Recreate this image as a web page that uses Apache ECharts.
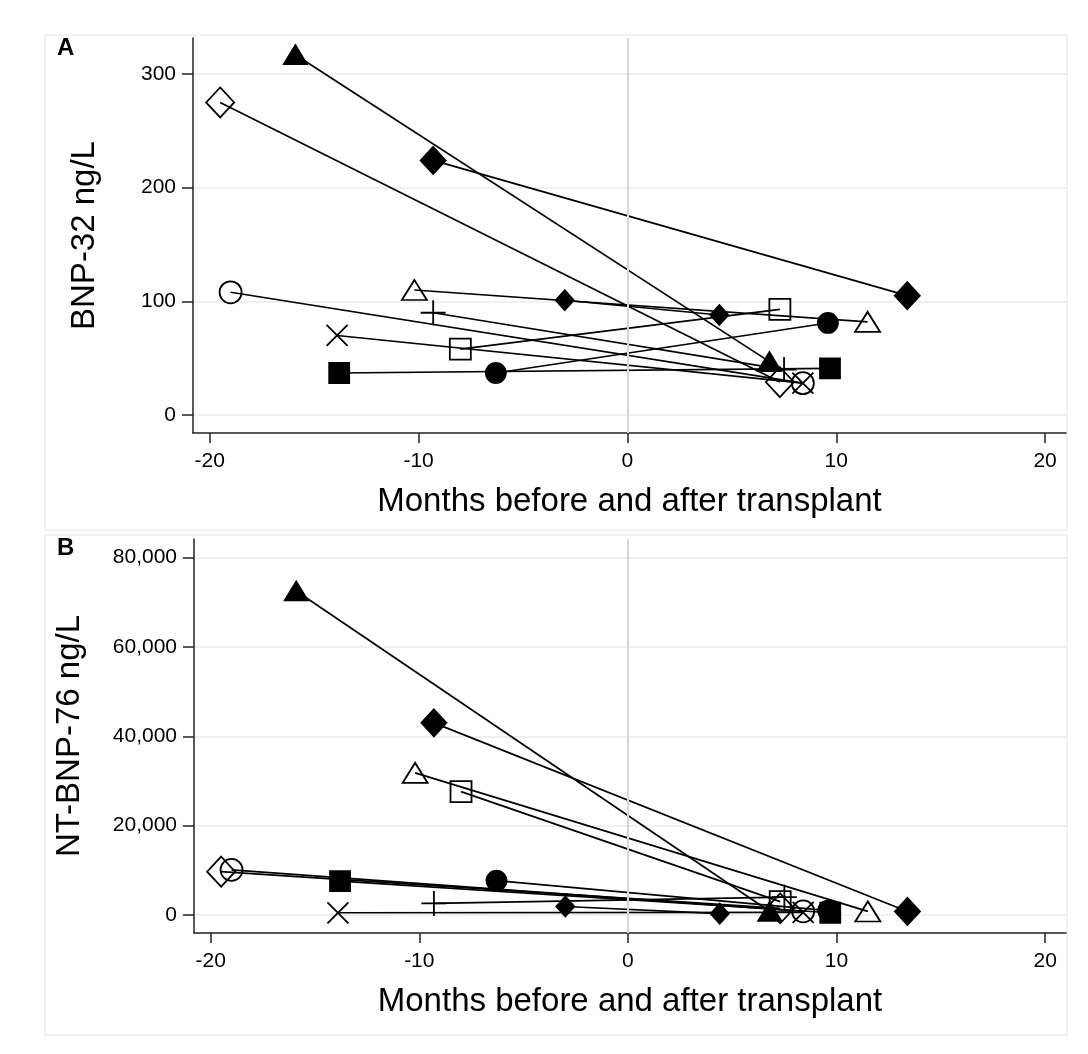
<!DOCTYPE html>
<html>
<head>
<meta charset="utf-8">
<script src="https://cdn.jsdelivr.net/npm/echarts@6/dist/echarts.min.js"></script>
<style>
html,body{margin:0;padding:0;background:#fff;}
#chart{width:1088px;height:1054px;}
</style>
</head>
<body>
<div id="chart"></div>
<script>
// Patients (same order in every array):
// filled triangle, open diamond, filled diamond, open circle, open triangle,
// small filled diamond, plus, x, open square, filled square, filled circle
const monthsBefore = [-15.9, -19.5, -9.3, -19.0, -10.2, -3.0, -9.3, -13.9, -8.0, -13.8, -6.3];
const monthsAfter  = [6.8, 7.3, 13.4, 8.4, 11.5, 4.4, 7.5, 8.4, 7.3, 9.7, 9.6];
const bnpBefore = [317, 275, 224, 108, 110, 101, 90, 70, 58, 37, 37];
const bnpAfter  = [47, 29, 105, 28, 82, 88, 40, 28, 93, 41, 81];
const ntBefore = [72500, 9700, 43000, 10100, 31800, 1900, 2600, 500, 27600, 7600, 7700];
const ntAfter  = [800, 1500, 800, 800, 800, 300, 4000, 600, 3000, 500, 1000];
const xTicks = [-20, -10, 0, 10, 20];
const bnpTicks = [0, 100, 200, 300];
const ntTicks = [0, 20000, 40000, 60000, 80000];
const panelLabels = ['A', 'B'];
const yTitles = ['BNP-32 ng/L', 'NT-BNP-76 ng/L'];
const xTitle = 'Months before and after transplant';

const PLUS = 'path://M12,0 L12,24 M0,12 L24,12';
const CROSS = 'path://M0,0 L24,24 M24,0 L0,24';
const FILL = '#000';
const HOLLOW = 'rgba(0,0,0,0)';
const markers = [
  {symbol:'triangle', size:[23,19], fill:FILL},
  {symbol:'diamond', size:[28,30], fill:HOLLOW},
  {symbol:'diamond', size:[25,27], fill:FILL},
  {symbol:'circle', size:22, fill:HOLLOW},
  {symbol:'triangle', size:[25,20], fill:HOLLOW},
  {symbol:'diamond', size:[18,20], fill:FILL},
  {symbol:PLUS, size:25, fill:HOLLOW},
  {symbol:CROSS, size:21, fill:HOLLOW},
  {symbol:'rect', size:21, fill:HOLLOW},
  {symbol:'rect', size:20, fill:FILL},
  {symbol:'circle', size:20, fill:FILL}
];

const FONT = 'Liberation Sans, Arial, Helvetica, sans-serif';
const chart = echarts.init(document.getElementById('chart'), null, {renderer:'canvas'});

function xAxisCfg(gi){
  return {
    gridIndex: gi, type:'value', min:-20.8, max:21.0,
    name: xTitle, nameLocation:'middle', nameGap:52,
    nameTextStyle:{fontFamily:FONT, fontSize:33, color:'#000'},
    axisLine:{onZero:false, lineStyle:{color:'#222', width:1.5}},
    axisTick:{show:true, length:10, customValues:xTicks, lineStyle:{color:'#222', width:1.5}},
    axisLabel:{customValues:xTicks, margin:18, fontFamily:FONT, fontSize:21, color:'#000'},
    splitLine:{show:false}
  };
}
function yAxisCfg(gi, min, max, ticks, gap){
  return {
    gridIndex: gi, type:'value', min:min, max:max,
    name: yTitles[gi], nameLocation:'middle', nameGap:gap,
    nameTextStyle:{fontFamily:FONT, fontSize:33, color:'#000'},
    axisLine:{onZero:false, lineStyle:{color:'#222', width:1.5}},
    axisTick:{show:true, length:11, customValues:ticks, lineStyle:{color:'#222', width:1.5}},
    axisLabel:{customValues:ticks, margin:17, fontFamily:FONT, fontSize:21, color:'#000',
      formatter:function(v){return Number(v).toLocaleString('en-US');}},
    splitLine:{show:true, lineStyle:{color:'#ececec', width:1.5}}
  };
}

const series = [];
[[bnpBefore, bnpAfter],[ntBefore, ntAfter]].forEach(function(pair, gi){
  series.push({
    type:'line', xAxisIndex:gi, yAxisIndex:gi, data:[], silent:true, z:1,
    markLine:{silent:true, symbol:'none', animation:false, label:{show:false},
      lineStyle:{color:'#d6d6d6', width:2, type:'solid'}, data:[{xAxis:0}]}
  });
  for (let i = 0; i < monthsBefore.length; i++) {
    const m = markers[i];
    series.push({
      type:'line', xAxisIndex:gi, yAxisIndex:gi, z:3,
      data:[[monthsBefore[i], pair[0][i]],[monthsAfter[i], pair[1][i]]],
      symbol:m.symbol, symbolSize:m.size, showSymbol:true, showAllSymbol:true,
      clip:false,
      lineStyle:{color:'#000', width:1.7},
      itemStyle:{color:m.fill, borderColor:'#000', borderWidth:1.8, opacity:1},
      emphasis:{disabled:true}
    });
  }
});

chart.setOption({
  animation:false,
  backgroundColor:'#fff',
  grid:[
    {left:193, top:38, width:873, height:395},
    {left:194, top:539, width:872, height:394}
  ],
  xAxis:[xAxisCfg(0), xAxisCfg(1)],
  yAxis:[yAxisCfg(0, -15.8, 331.7, bnpTicks, 92), yAxisCfg(1, -4026, 84139, ntTicks, 108)],
  graphic:[
    {type:'rect', shape:{x:45, y:35, width:1022, height:495}, style:{fill:'none', stroke:'#ededed', lineWidth:1.5}, silent:true},
    {type:'rect', shape:{x:45, y:535, width:1022, height:500}, style:{fill:'none', stroke:'#ededed', lineWidth:1.5}, silent:true},
    {type:'text', left:57, top:36, style:{text:panelLabels[0], fontSize:24, fontWeight:'bold', fontFamily:FONT, fill:'#000'}},
    {type:'text', left:57, top:536, style:{text:panelLabels[1], fontSize:24, fontWeight:'bold', fontFamily:FONT, fill:'#000'}}
  ],
  series:series
});
</script>
</body>
</html>
